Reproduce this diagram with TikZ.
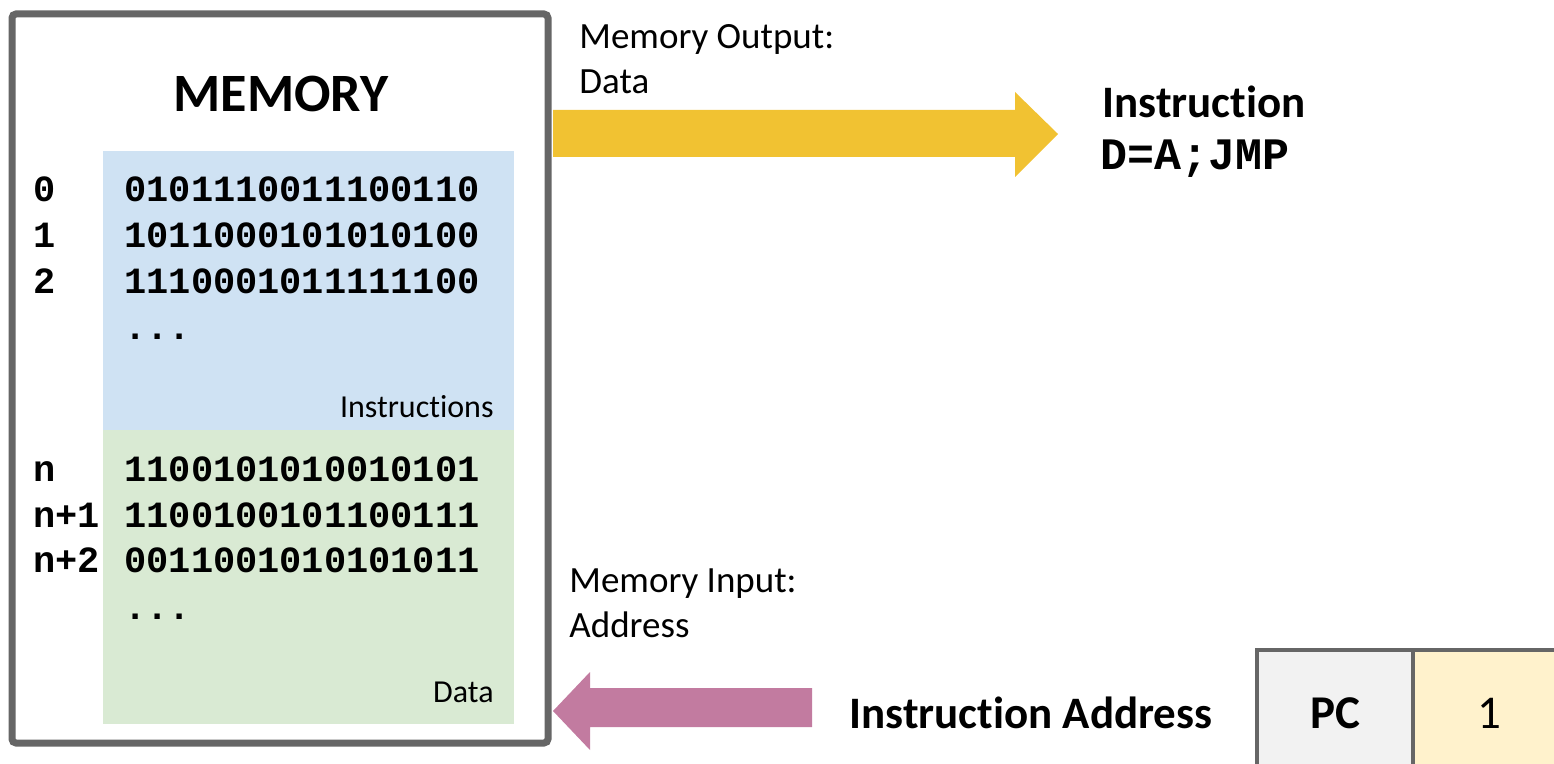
\documentclass[tikz,border=0pt]{standalone}
\usepackage{fontspec}
\setmainfont{Carlito}[Ligatures=NoCommon]
\newfontfamily\cmono{Liberation Mono}
\definecolor{memgray}{HTML}{666666}
\definecolor{instrblue}{HTML}{CFE2F3}
\definecolor{datagreen}{HTML}{D9EAD3}
\definecolor{outyellow}{HTML}{F1C232}
\definecolor{inpink}{HTML}{C27BA0}
\definecolor{pcgray}{HTML}{F2F2F2}
\definecolor{pcyellow}{HTML}{FFF2CC}
\tikzset{
  bits/.style={anchor=base west, inner sep=0pt, font=\cmono\bfseries\fontsize{18.5}{22}\selectfont},
  lbl/.style={anchor=base west, inner sep=0pt, font=\fontsize{18.5}{22}\selectfont},
  small/.style={anchor=base east, inner sep=0pt, font=\fontsize{16}{19}\selectfont},
  big/.style={anchor=base west, inner sep=0pt, font=\bfseries\fontsize{22.5}{27}\selectfont},
}
\begin{document}
\begin{tikzpicture}[x=0.5pt,y=-0.5pt]
\useasboundingbox (0,0) rectangle (1554,764);
% regions
\fill[instrblue] (103,151) rectangle (514,430);
\fill[datagreen] (103,430) rectangle (514,724);
\draw[memgray, line width=3.5pt, rounded corners=2pt] (12,14) rectangle (548,743);
\node[anchor=base, inner sep=0pt, font=\bfseries\fontsize{27}{32}\selectfont] (memtitle) at (281,112) {MEMORY};
% instruction rows
\node[bits] (a0) at (33,202) {0};
\node[bits] (a1) at (33,248) {1};
\node[bits] (a2) at (33,294) {2};
\node[bits] (w0) at (124,202) {0101110011100110};
\node[bits] (w1) at (124,248) {1011000101010100};
\node[bits] (w2) at (124,294) {1110001011111100};
\node[bits] (wd1) at (124,340) {...};
\node[small] (instrlbl) at (494,418) {Instructions};
% data rows
\node[bits] (an) at (33,482) {n};
\node[bits] (an1) at (33,528) {n+1};
\node[bits] (an2) at (33,573) {n+2};
\node[bits] (d0) at (124,482) {1100101010010101};
\node[bits] (d1) at (124,528) {1100100101100111};
\node[bits] (d2) at (124,573) {0011001010101011};
\node[bits] (wd2) at (124,619) {...};
\node[small] (datalbl) at (494,702) {Data};
% output arrow
\fill[outyellow] (553,110) -- (1015,110) -- (1015,92) -- (1058,134) -- (1015,177) -- (1015,157) -- (553,157) -- cycle;
\node[lbl] (outl1) at (579,49) {Memory Output:};
\node[lbl] (outl2) at (579,94) {Data};
\node[big] (instr) at (1102,118) {Instruction};
\node[anchor=base west, inner sep=0pt, font=\cmono\bfseries\fontsize{22.5}{27}\selectfont] (code) at (1100,170) {D=A;JMP};
% input arrow
\fill[inpink] (553,711) -- (590,672) -- (590,688) -- (812,688) -- (812,727) -- (590,727) -- (590,750) -- cycle;
\node[lbl] (inl1) at (569,593) {Memory Input:};
\node[lbl] (inl2) at (569,638) {Address};
\node[big] (iaddr) at (849,728) {Instruction Address};
% PC register
\draw[memgray, line width=2pt, fill=pcgray] (1257,650) rectangle (1413,790);
\draw[memgray, line width=2pt, fill=pcyellow] (1413,650) rectangle (1580,790);
\node[anchor=base, inner sep=0pt, font=\bfseries\fontsize{23.5}{28}\selectfont] (pc) at (1335,728) {PC};
\node[anchor=base, inner sep=0pt, font=\fontsize{23.5}{28}\selectfont] (pcval) at (1489,728) {1};
\end{tikzpicture}
\end{document}
